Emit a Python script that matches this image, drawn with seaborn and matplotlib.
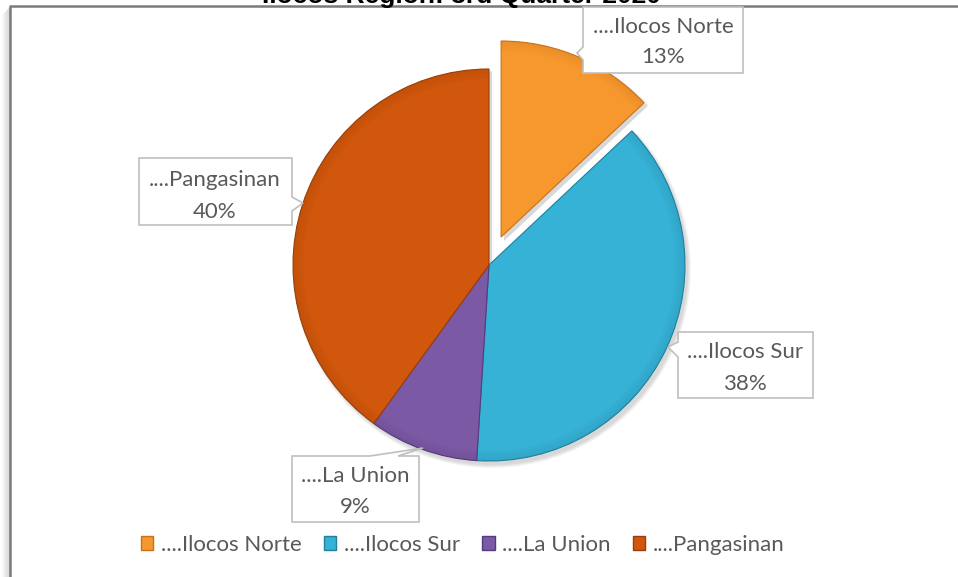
import matplotlib.pyplot as plt
import seaborn as sns
from matplotlib.patches import Polygon, Patch, Wedge

# Данные
regions = ['....Ilocos Norte', '....Ilocos Sur', '....La Union', '....Pangasinan']
shares = [13, 38, 9, 40]
title = 'Ilocos Region: 3rd Quarter 2020'

colors = ['#F7982E', '#36B2D6', '#7C59A5', '#D0570C']
edges = ['#C9701A', '#217F9C', '#553A7A', '#993E06']

sns.set_theme(style='white')
plt.rcParams['font.family'] = ['Lato', 'DejaVu Sans']

W, H = 958, 577
fig = plt.figure(figsize=(W / 100, H / 100), dpi=100)
ax = fig.add_axes([0, 0, 1, 1])


def py(y):
    # пиксели сверху -> координаты снизу
    return H - y


# рамка области диаграммы с тенью слева
for i in range(1, 9):
    ax.plot([10 - i, 10 - i], [-5, py(6 + i)], color='#808080',
            alpha=0.28 * (1 - i / 9), lw=1, solid_capstyle='butt')
ax.plot([10, 10, W + 5], [-5, py(6), py(6)], color='#7a7a7a', lw=1.8)

# круговая диаграмма (explode в единицах данных)
explode = [30.5, 0, 0, 0]
wedges, _ = ax.pie(shares, colors=colors, startangle=90, counterclock=False,
                   explode=explode, center=(489, py(265)), radius=196,
                   wedgeprops=dict(linewidth=0.8, zorder=2))
for w, ec in zip(wedges, edges):
    w.set_edgecolor(ec)
    w.set_zorder(2)
    cx, cy = w.center
    # мягкая тень каждого сектора
    for k in range(4):
        ax.add_patch(Wedge((cx + 3, cy - 4), w.r + k, w.theta1, w.theta2,
                           facecolor='black', alpha=0.04, lw=0, zorder=1))
    # затемнённый обод для объёма
    for k in range(5):
        ax.add_patch(Wedge(w.center, w.r - k * 2, w.theta1, w.theta2, width=2,
                           facecolor=ec, alpha=0.22 - k * 0.04, lw=0, zorder=3))

ax.set_xlim(0, W)
ax.set_ylim(0, H)
ax.set_aspect('auto')
ax.axis('off')

# выноски
total = sum(shares)
callouts = [
    [(583, 7), (743, 7), (743, 73), (583, 73), (583, 60), (577, 53), (583, 47)],
    [(678, 332), (813, 332), (813, 398), (678, 398), (678, 357), (668, 347), (678, 342)],
    [(292, 456), (370, 456), (423, 448), (398, 456), (419, 456), (419, 522), (292, 522)],
    [(139, 158), (292, 158), (292, 197), (303, 203), (292, 211), (292, 225), (139, 225)],
]
text_pos = [(663, 27, 57), (745, 352, 384), (355, 476, 507), (215, 180, 212)]

for reg, val, poly, (tx, y1, y2) in zip(regions, shares, callouts, text_pos):
    ax.add_patch(Polygon([(x, py(y)) for x, y in poly], closed=True,
                         facecolor='white', edgecolor='#BFBFBF', lw=1.2, zorder=5))
    ax.text(tx, py(y1), reg, ha='center', va='center', fontsize=16,
            color='#595959', zorder=6)
    ax.text(tx, py(y2), f'{round(val / total * 100)}%', ha='center', va='center',
            fontsize=16, color='#595959', zorder=6)

# заголовок (обрезан сверху, как в оригинале)
ax.text(461, py(2.5), title, ha='center', va='baseline', fontsize=19,
        fontweight='bold', family='Liberation Sans', color='black')

# легенда
handles = [Patch(facecolor=c, edgecolor=e) for c, e in zip(colors, edges)]
leg = fig.legend(handles, regions, loc='center', ncol=4, frameon=False,
                 bbox_to_anchor=(463 / W, 1 - 545 / H), fontsize=16,
                 handlelength=0.55, handleheight=0.55, handletextpad=0.35,
                 columnspacing=1.0, labelcolor='#595959')

fig.savefig('out.png', dpi=100)
